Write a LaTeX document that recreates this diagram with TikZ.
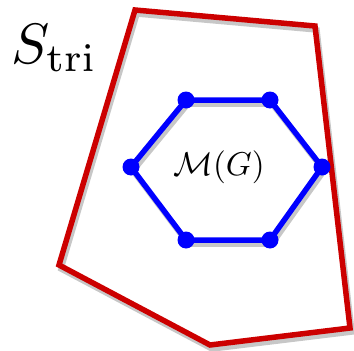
\documentclass[tikz,border=0pt]{standalone}
\begin{document}
\begin{tikzpicture}[x=1pt,y=-1pt,
  redline/.style={draw={rgb,255:red,204;green,0;blue,0}, line width=5.5pt, line join=miter},
  blueline/.style={draw=blue, line width=5.5pt},
  shadowline/.style={draw=black!22, line width=5.5pt},
  vdot/.style={circle, fill=blue, inner sep=0pt, minimum size=17pt},
  sh/.style={xshift=2pt, yshift=-4pt}]
\useasboundingbox (0,0) rectangle (354,351);
% red polygon corners
\coordinate (r1) at (135,10);
\coordinate (r2) at (315,26);
\coordinate (r3) at (350,328);
\coordinate (r4) at (210,345);
\coordinate (r5) at (59,265);
% hexagon vertices
\coordinate (h1) at (186,100);
\coordinate (h2) at (270,100);
\coordinate (h3) at (322,167);
\coordinate (h4) at (270,240);
\coordinate (h5) at (186,240);
\coordinate (h6) at (131,167);
% shadows
\draw[shadowline] ([sh]r1) -- ([sh]r2) -- ([sh]r3) -- ([sh]r4) -- ([sh]r5) -- cycle;
\draw[shadowline] ([sh]h1) -- ([sh]h2) -- ([sh]h3) -- ([sh]h4) -- ([sh]h5) -- ([sh]h6) -- cycle;
% red polygon
\draw[redline] (r1) -- (r2) -- (r3) -- (r4) -- (r5) -- cycle;
% hexagon
\draw[blueline] (h1) -- (h2) -- (h3) -- (h4) -- (h5) -- (h6) -- cycle;
\foreach \v in {h1,h2,h3,h4,h5,h6}{
  \node[vdot] (d\v) at (\v) {};
}
% labels
\node[anchor=base west, inner sep=0pt] (stri) at (11,63) {\scalebox{5.7}{$S_{\mathrm{tri}}$}};
\node[inner sep=0pt] (mg) at (219,167) {\scalebox{3.3}{$\mathcal{M}(G)$}};
\end{tikzpicture}
\end{document}
